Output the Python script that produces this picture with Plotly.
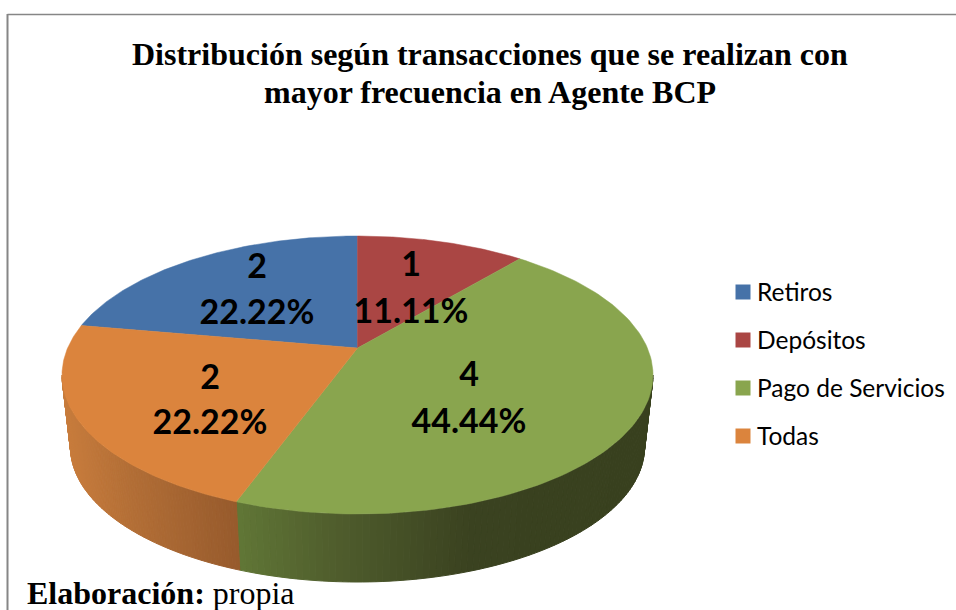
import numpy as np
import plotly.graph_objects as go

categories = ["Retiros", "Depósitos", "Pago de Servicios", "Todas"]
counts = [2, 1, 4, 2]
colors = ["#4672A8", "#AA4644", "#89A54E", "#DB843D"]
title_lines = ["Distribución según transacciones que se realizan con", "mayor frecuencia en Agente BCP"]
title_y = [54, 92]
label_x = [257, 411, 469, 210]
count_y = [269, 267, 377, 380]
pct_y = [315, 314, 424, 425]
legend_y = [292, 340, 388, 436]
legend_text_y = [295, 343, 391, 439]

# pie geometry on a pixel-sized axis
START_ANGLE = -80.0
CX, TOP_CY, TOP_RX, TOP_RY = 357.5, 375.0, 295.5, 139.0
BOT_CY, BOT_RX, BOT_RY = 447.0, 287.0, 135.0
K = 0.194  # perspective tilt: the pie's centre sits above the ellipse's centre


def project(theta_deg):
    th = np.radians(theta_deg)
    d = 1 + K * np.cos(th)
    return np.sin(th) * np.sqrt(1 - K ** 2) / d, (np.cos(th) + K) / d


def top_pt(theta):
    u, v = project(theta)
    return CX + TOP_RX * u, TOP_CY - TOP_RY * v


def bot_pt(theta):
    u, v = project(theta)
    return CX + BOT_RX * u, BOT_CY - BOT_RY * v


def lerp_color(stops, x):
    xs = [s[0] for s in stops]
    rgb = [int(round(np.interp(x, xs, [s[1][i] for s in stops]))) for i in range(3)]
    return f"rgb({rgb[0]},{rgb[1]},{rgb[2]})"


wall_shades = {
    2: [(238, (96, 118, 54)), (330, (80, 94, 45)), (470, (58, 66, 32)), (660, (56, 64, 30))],
    3: [(62, (200, 124, 60)), (130, (178, 110, 54)), (238, (150, 90, 44))],
}

total = sum(counts)
edges = START_ANGLE + np.concatenate([[0], np.cumsum(counts) / total * 360])
wall_limit = np.degrees(np.arccos(-K))  # silhouette of the side wall

fig = go.Figure()

# side wall, strip by strip so the shading can run across it
for idx, shades in wall_shades.items():
    a0 = max(edges[idx], wall_limit)
    a1 = min(edges[idx + 1], 360 - wall_limit)
    steps = np.linspace(a0, a1, 91)
    for s0, s1 in zip(steps[:-1], steps[1:]):
        arc = np.linspace(s0, s1, 3)
        tx, ty = top_pt(arc)
        bx, by = bot_pt(arc[::-1])
        c = lerp_color(shades, float(np.mean(tx)))
        fig.add_trace(go.Scatter(
            x=np.concatenate([tx, bx, tx[:1]]), y=np.concatenate([ty, by, ty[:1]]),
            mode="lines", fill="toself", fillcolor=c, line=dict(color=c, width=1),
            hoverinfo="skip", showlegend=False))

# top face
cx0, cy0 = CX, TOP_CY - TOP_RY * K
for i, name in enumerate(categories):
    arc = np.linspace(edges[i], edges[i + 1], 120)
    ax, ay = top_pt(arc)
    fig.add_trace(go.Scatter(
        x=np.concatenate([[cx0], ax, [cx0]]), y=np.concatenate([[cy0], ay, [cy0]]),
        mode="lines", fill="toself", fillcolor=colors[i], line=dict(color=colors[i], width=0.5),
        name=name, hoverinfo="name", showlegend=False))

# data labels: count and share on their own lines
label_font = dict(family="Lato", size=34, color="#000000")
fig.add_trace(go.Scatter(
    x=label_x, y=count_y, mode="text", text=[f"<b>{c}</b>" for c in counts],
    textposition="middle center", textfont=label_font, hoverinfo="skip", showlegend=False))
fig.add_trace(go.Scatter(
    x=label_x, y=pct_y, mode="text", text=[f"<b>{c / total * 100:.2f}%</b>" for c in counts],
    textposition="middle center", textfont=label_font, hoverinfo="skip", showlegend=False))

# legend
fig.add_trace(go.Scatter(
    x=[743] * 4, y=legend_y, mode="markers",
    marker=dict(symbol="square", size=15, color=colors, line=dict(width=0)),
    hoverinfo="skip", showlegend=False))
fig.add_trace(go.Scatter(
    x=[757] * 4, y=legend_text_y, mode="text", text=categories, textposition="middle right",
    textfont=dict(family="Lato", size=24.5, color="#000000"), hoverinfo="skip", showlegend=False))

fig.update_layout(
    width=956, height=610, autosize=False,
    margin=dict(l=0, r=0, t=0, b=0),
    paper_bgcolor="white", plot_bgcolor="white",
    xaxis=dict(range=[0, 956], visible=False, fixedrange=True),
    yaxis=dict(range=[610, 0], visible=False, fixedrange=True),
    showlegend=False,
    shapes=[
        dict(type="line", xref="x", yref="y", x0=7.5, x1=7.5, y0=14, y1=610,
             line=dict(color="#868686", width=2)),
        dict(type="line", xref="x", yref="y", x0=7.5, x1=956, y0=14.5, y1=14.5,
             line=dict(color="#868686", width=1.5)),
    ],
    annotations=[
        dict(xref="x", yref="y", x=490, y=ty_, xanchor="center", yanchor="middle", showarrow=False,
             text=f"<b>{line}</b>",
             font=dict(family="Liberation Serif", size=32, color="#000000"))
        for line, ty_ in zip(title_lines, title_y)
    ] + [dict(
        xref="x", yref="y", x=25, y=593, xanchor="left", yanchor="middle", showarrow=False,
        text="<b>Elaboración:</b> propia",
        font=dict(family="Liberation Serif", size=32, color="#000000"))],
)

fig.write_html("out.html", config=dict(displayModeBar=False),
               post_script="document.body.style.margin='0';")
